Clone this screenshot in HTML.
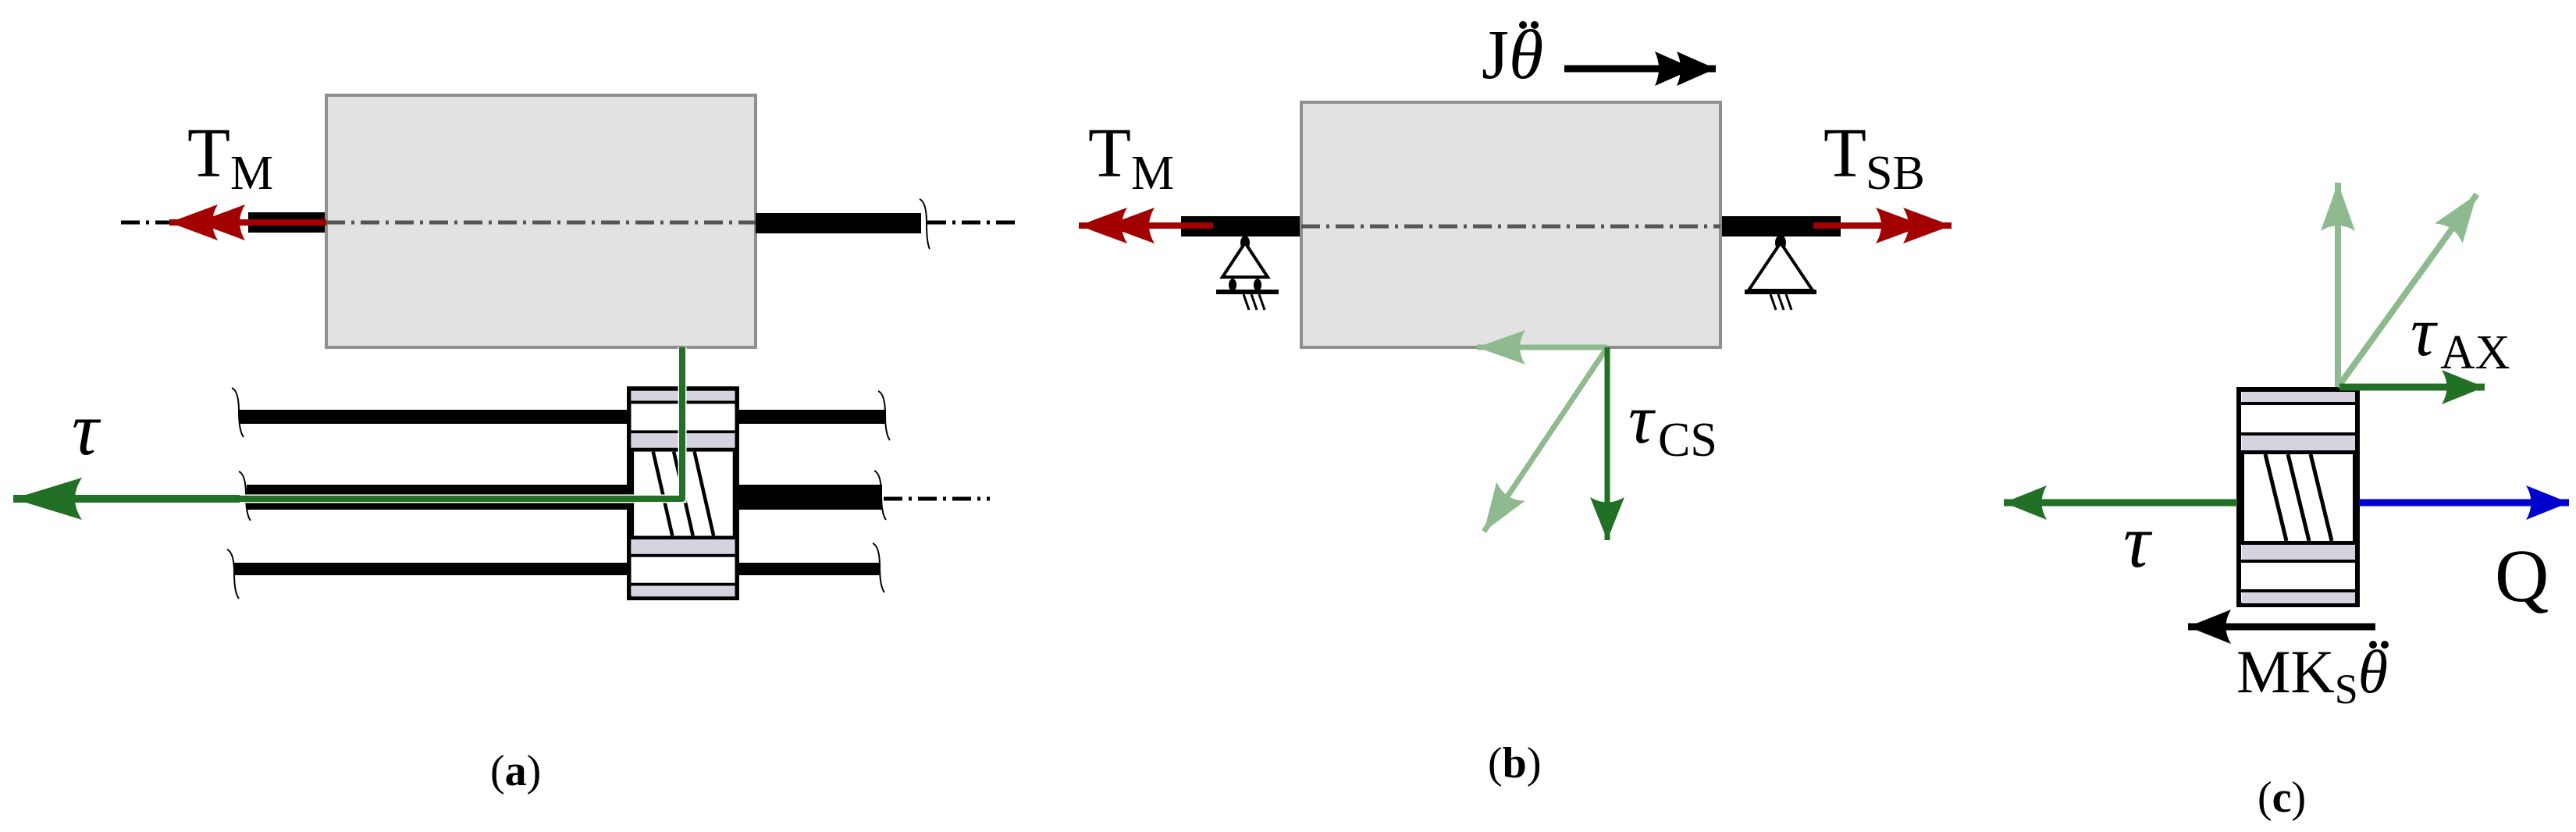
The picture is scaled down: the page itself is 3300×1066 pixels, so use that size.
<!DOCTYPE html>
<html><head><meta charset="utf-8"><style>
html,body{margin:0;padding:0;background:#fff}
svg{display:block}
text{font-family:"Liberation Serif",serif;fill:#000}
</style></head><body>
<svg width="3300" height="1066" viewBox="0 0 3300 1066" xmlns="http://www.w3.org/2000/svg">
<defs>
<marker id="mg" markerUnits="userSpaceOnUse" refX="0" refY="0" markerWidth="10" markerHeight="10" orient="auto" overflow="visible">
<path d="M0,0 L-88,-27 Q-70,0 -88,27 Z" fill="#217025"/></marker>
<marker id="mgs" markerUnits="userSpaceOnUse" refX="0" refY="0" orient="auto" overflow="visible" markerWidth="10" markerHeight="10">
<path d="M0,0 L-55,-22 Q-42,0 -55,22 Z" fill="#217025"/></marker>
<marker id="ml" markerUnits="userSpaceOnUse" refX="0" refY="0" orient="auto" overflow="visible" markerWidth="10" markerHeight="10">
<path d="M0,0 L-62,-22 Q-48,0 -62,22 Z" fill="#8fba8f"/></marker>
<marker id="mb" markerUnits="userSpaceOnUse" refX="0" refY="0" orient="auto" overflow="visible" markerWidth="10" markerHeight="10">
<path d="M0,0 L-55,-22 Q-42,0 -55,22 Z" fill="#0000cc"/></marker>
<marker id="mk" markerUnits="userSpaceOnUse" refX="0" refY="0" orient="auto" overflow="visible" markerWidth="10" markerHeight="10">
<path d="M0,0 L-55,-22 Q-42,0 -55,22 Z" fill="#000"/></marker>
<marker id="mr" markerUnits="userSpaceOnUse" refX="0" refY="0" orient="auto" overflow="visible" markerWidth="10" markerHeight="10">
<path d="M0,0 L-62,-23 Q-48,0 -62,23 Z M-35,0 L-97,-23 Q-83,0 -97,23 Z" fill="#a30000"/></marker>
<marker id="mkk" markerUnits="userSpaceOnUse" refX="0" refY="0" orient="auto" overflow="visible" markerWidth="10" markerHeight="10">
<path d="M0,0 L-50,-22 Q-40,0 -50,22 Z M-28,0 L-78,-22 Q-68,0 -78,22 Z" fill="#000"/></marker>
<g id="gear">
<rect x="3" y="3" width="152" height="276" fill="#fff" stroke="#000" stroke-width="6"/>
<rect x="7" y="6" width="145" height="13" fill="#d6d2de"/>
<rect x="6" y="19" width="146" height="4" fill="#000"/>
<rect x="6" y="58" width="146" height="4" fill="#000"/>
<rect x="7" y="62" width="145" height="19" fill="#d6d2de"/>
<rect x="6" y="81" width="146" height="5" fill="#000"/>
<rect x="6" y="86" width="4" height="111" fill="#000"/>
<rect x="149" y="86" width="4" height="111" fill="#000"/>
<rect x="6" y="197" width="146" height="5" fill="#000"/>
<rect x="7" y="202" width="145" height="19" fill="#d6d2de"/>
<rect x="6" y="221" width="146" height="4" fill="#000"/>
<rect x="6" y="259" width="146" height="4" fill="#000"/>
<rect x="7" y="263" width="145" height="14" fill="#d6d2de"/>
<g stroke="#000" stroke-width="5"><line x1="37" y1="86" x2="64" y2="197"/><line x1="66" y1="86" x2="93" y2="197"/><line x1="95" y1="86" x2="122" y2="197"/></g>
</g>
</defs>

<!-- ===== (a) ===== -->
<line x1="155" y1="285" x2="420" y2="285" stroke="#000" stroke-width="5" stroke-dasharray="24 8 4 8"/>
<rect x="318" y="272" width="100" height="26" fill="#000"/>
<rect x="418" y="122" width="550" height="323" fill="#e2e2e2" stroke="#8f8f8f" stroke-width="4"/>
<line x1="418" y1="285" x2="968" y2="285" stroke="#555" stroke-width="5" stroke-dasharray="24 8 4 8"/>
<line x1="418" y1="285" x2="217" y2="285" stroke="#a30000" stroke-width="8" marker-end="url(#mr)"/>
<rect x="968" y="273" width="212" height="26" fill="#000"/>
<path d="M1178,255 q9,4 9,30 q0,26 4,34" fill="none" stroke="#000" stroke-width="2"/>
<line x1="1188" y1="285" x2="1308" y2="285" stroke="#000" stroke-width="5" stroke-dasharray="24 8 4 8"/>
<text x="240" y="226" font-size="90">T</text><text x="295" y="242" font-size="62">M</text>

<!-- lower shafts -->
<rect x="307" y="525" width="500" height="18" fill="#000"/>
<rect x="945" y="525" width="190" height="18" fill="#000"/>
<rect x="316" y="621" width="496" height="32" fill="#000"/>
<rect x="945" y="621" width="185" height="32" fill="#000"/>
<rect x="299" y="721" width="508" height="16" fill="#000"/>
<rect x="945" y="721" width="183" height="16" fill="#000"/>
<g fill="none" stroke="#000" stroke-width="2">
<path d="M297,497 q9,4 9,30 q0,25 6,33"/>
<path d="M306,604 q9,4 9,30 q0,25 6,33"/>
<path d="M291,704 q9,4 9,30 q0,25 6,33"/>
<path d="M1125,501 q9,4 9,30 q0,25 6,33"/>
<path d="M1120,603 q9,4 9,30 q0,25 6,33"/>
<path d="M1118,696 q9,4 9,30 q0,25 6,33"/>
</g>
<line x1="1132" y1="639" x2="1268" y2="639" stroke="#000" stroke-width="5" stroke-dasharray="24 8 4 8"/>
<use href="#gear" transform="translate(803,495) scale(0.911,0.972)"/>
<path d="M874,445 V639 H305" fill="none" stroke="#fff" stroke-width="11"/>
<path d="M874,445 V639 H305" fill="none" stroke="#217025" stroke-width="8" stroke-linejoin="round"/>
<line x1="307" y1="639" x2="17" y2="639" stroke="#217025" stroke-width="10" marker-end="url(#mg)"/>
<text x="92" y="582" font-size="96" font-style="italic">τ</text>
<text x="628" y="1006" font-size="56">(<tspan font-weight="bold">a</tspan>)</text>

<!-- ===== (b) ===== -->
<rect x="1513" y="277" width="152" height="26" fill="#000"/>
<rect x="2204" y="277" width="154" height="26" fill="#000"/>
<rect x="1667" y="131" width="537" height="314" fill="#e2e2e2" stroke="#8f8f8f" stroke-width="4"/>
<line x1="1667" y1="290" x2="2204" y2="290" stroke="#555" stroke-width="5" stroke-dasharray="24 8 4 8"/>
<line x1="1554" y1="289" x2="1382" y2="289" stroke="#a30000" stroke-width="8" marker-end="url(#mr)"/>
<line x1="2323" y1="289" x2="2500" y2="289" stroke="#a30000" stroke-width="8" marker-end="url(#mr)"/>
<!-- left support -->
<ellipse cx="1595" cy="311" rx="6" ry="9" fill="#000"/>
<path d="M1595,311 L1566,355 L1624,355 Z" fill="#fff" stroke="#000" stroke-width="4"/>
<ellipse cx="1579" cy="365" rx="5" ry="8" fill="#000"/>
<ellipse cx="1611" cy="365" rx="5" ry="8" fill="#000"/>
<line x1="1558" y1="374" x2="1638" y2="374" stroke="#000" stroke-width="6"/>
<g stroke="#000" stroke-width="3"><line x1="1593" y1="377" x2="1600" y2="397"/><line x1="1603" y1="377" x2="1610" y2="397"/><line x1="1613" y1="377" x2="1620" y2="397"/></g>
<!-- right support -->
<ellipse cx="2281" cy="311" rx="7" ry="10" fill="#000"/>
<path d="M2281,311 L2240,372 L2322,372 Z" fill="#fff" stroke="#000" stroke-width="4"/>
<line x1="2235" y1="374" x2="2327" y2="374" stroke="#000" stroke-width="6"/>
<g stroke="#000" stroke-width="3"><line x1="2268" y1="377" x2="2275" y2="397"/><line x1="2278" y1="377" x2="2285" y2="397"/><line x1="2288" y1="377" x2="2295" y2="397"/></g>
<text x="1394" y="226" font-size="90">T</text><text x="1449" y="242" font-size="62">M</text>
<text x="2336" y="226" font-size="90">T</text><text x="2390" y="242" font-size="62">SB</text>
<text x="1898" y="100" font-size="90">J<tspan font-style="italic">θ</tspan></text>
<circle cx="1951" cy="32" r="5" fill="#000"/><circle cx="1966" cy="32" r="5" fill="#000"/>
<line x1="2004" y1="88" x2="2198" y2="88" stroke="#000" stroke-width="9" marker-end="url(#mkk)"/>
<!-- forces -->
<line x1="2059" y1="445" x2="1892" y2="445" stroke="#8fba8f" stroke-width="7" marker-end="url(#ml)"/>
<line x1="2059" y1="445" x2="1901" y2="681" stroke="#8fba8f" stroke-width="7" marker-end="url(#ml)"/>
<line x1="2059" y1="445" x2="2059" y2="692" stroke="#217025" stroke-width="7" marker-end="url(#mgs)"/>
<text x="2086" y="567" font-size="90" font-style="italic">τ</text><text x="2124" y="584" font-size="62">CS</text>
<text x="1906" y="996" font-size="56">(<tspan font-weight="bold">b</tspan>)</text>

<!-- ===== (c) ===== -->
<use href="#gear" transform="translate(2865,496)"/>
<line x1="2995" y1="496" x2="2995" y2="234" stroke="#8fba8f" stroke-width="8" marker-end="url(#ml)"/>
<line x1="2995" y1="496" x2="3173" y2="249" stroke="#8fba8f" stroke-width="8" marker-end="url(#ml)"/>
<line x1="2997" y1="496" x2="3183" y2="496" stroke="#217025" stroke-width="9" marker-end="url(#mgs)"/>
<text x="3088" y="455" font-size="90" font-style="italic">τ</text><text x="3126" y="472" font-size="62">AX</text>
<line x1="2866" y1="644" x2="2567" y2="644" stroke="#217025" stroke-width="9" marker-end="url(#mgs)"/>
<line x1="3022" y1="644" x2="3291" y2="644" stroke="#0000cc" stroke-width="9" marker-end="url(#mb)"/>
<text x="2720" y="726" font-size="96" font-style="italic">τ</text>
<text x="3196" y="770" font-size="96">Q</text>
<line x1="3043" y1="803" x2="2803" y2="803" stroke="#000" stroke-width="9" marker-end="url(#mk)"/>
<text x="2865" y="887" font-size="78">MK<tspan font-size="54" dy="14">S</tspan><tspan font-style="italic" dy="-14">θ</tspan></text>
<circle cx="3040" cy="826" r="5" fill="#000"/><circle cx="3055" cy="826" r="5" fill="#000"/>
<text x="2892" y="1040" font-size="56">(<tspan font-weight="bold">c</tspan>)</text>
</svg>
</body></html>
